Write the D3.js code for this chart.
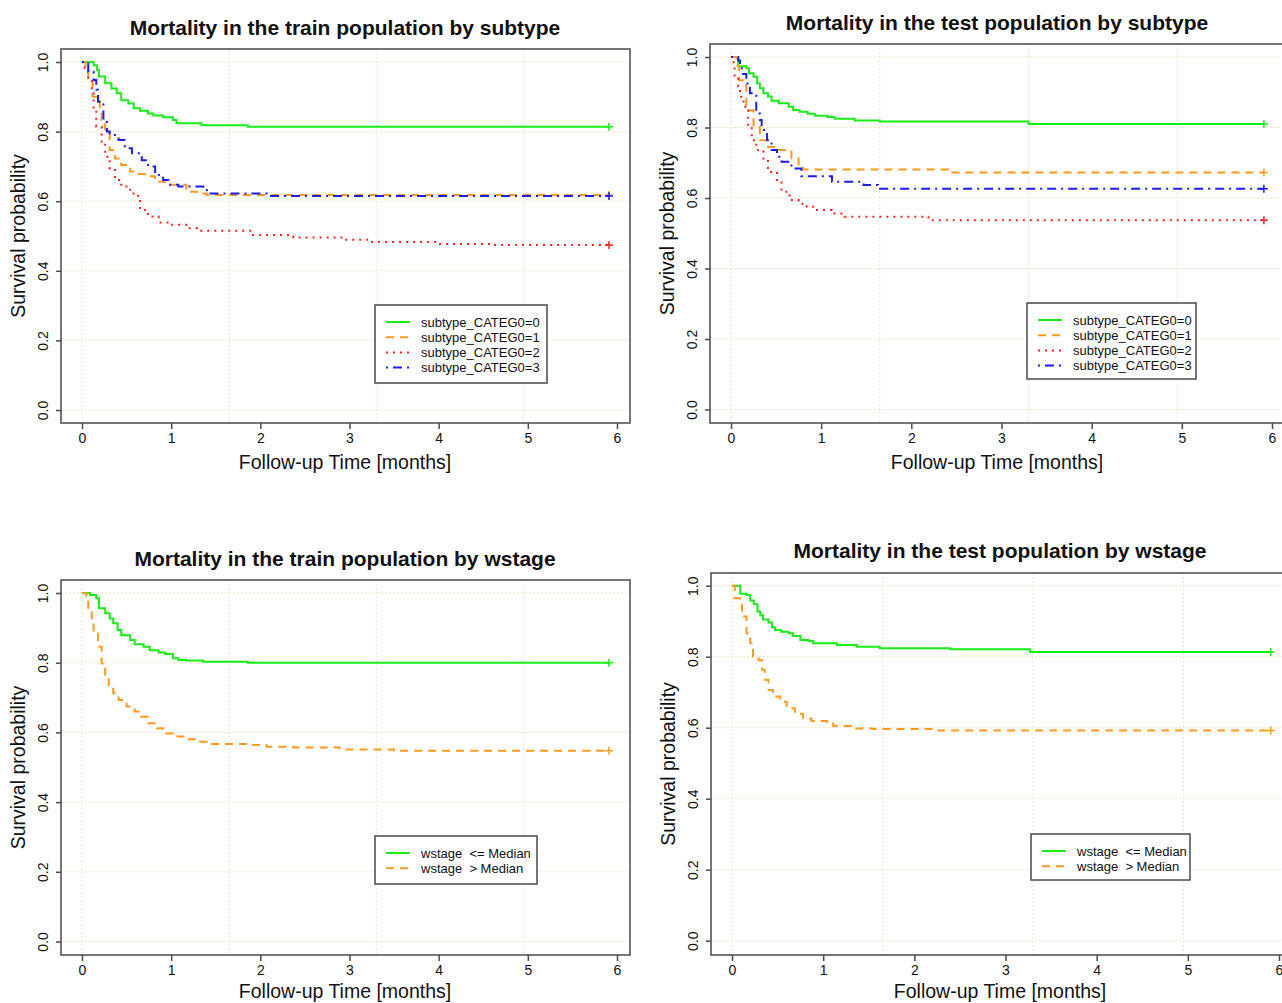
<!DOCTYPE html>
<html>
<head>
<meta charset="utf-8">
<script src="https://cdn.jsdelivr.net/npm/d3@7"></script>
<style>
  body { margin: 0; background: #fff; }
  svg { display: block; font-family: "Liberation Sans", Arial, sans-serif; }
</style>
</head>
<body>
<script>
// Kaplan-Meier step points [time in months, survival]
var trainSub0 = [[0,1],[0.13,0.991],[0.17,0.977],[0.19,0.958],[0.26,0.939],[0.33,0.924],[0.39,0.91],[0.44,0.89],[0.52,0.881],[0.58,0.867],[0.65,0.86],[0.74,0.852],[0.80,0.846],[0.91,0.841],[1.02,0.833],[1.06,0.824],[1.34,0.818],[1.86,0.814],[5.91,0.814]];
var trainSub1 = [[0,1],[0.04,0.975],[0.07,0.953],[0.12,0.9],[0.2,0.857],[0.22,0.833],[0.26,0.805],[0.31,0.747],[0.37,0.723],[0.44,0.704],[0.54,0.685],[0.63,0.678],[0.76,0.672],[0.82,0.656],[0.93,0.647],[1.17,0.627],[1.29,0.622],[1.40,0.618],[5.91,0.618]];
var trainSub2 = [[0,1],[0.03,0.982],[0.07,0.948],[0.11,0.91],[0.13,0.862],[0.16,0.814],[0.22,0.766],[0.26,0.728],[0.31,0.695],[0.37,0.661],[0.44,0.642],[0.54,0.622],[0.63,0.608],[0.65,0.575],[0.74,0.556],[0.86,0.539],[0.99,0.532],[1.17,0.522],[1.29,0.515],[1.90,0.503],[2.37,0.496],[2.91,0.489],[3.23,0.483],[4.0,0.477],[4.6,0.474],[5.91,0.474]];
var trainSub3 = [[0,1],[0.07,0.972],[0.13,0.948],[0.16,0.92],[0.18,0.886],[0.24,0.833],[0.28,0.8],[0.31,0.79],[0.41,0.776],[0.48,0.752],[0.56,0.738],[0.67,0.718],[0.74,0.70],[0.82,0.675],[0.91,0.661],[0.97,0.647],[1.08,0.642],[1.36,0.632],[1.40,0.622],[2.07,0.615],[5.91,0.615]];

var testSub0 = [[0,1],[0.08,0.974],[0.17,0.968],[0.2,0.954],[0.25,0.944],[0.29,0.925],[0.32,0.911],[0.36,0.897],[0.41,0.888],[0.45,0.876],[0.53,0.869],[0.64,0.859],[0.69,0.85],[0.76,0.845],[0.85,0.839],[0.93,0.833],[1.07,0.83],[1.15,0.825],[1.37,0.82],[1.65,0.817],[3.3,0.81],[5.91,0.81]];
var testSub1 = [[0,1],[0.06,0.976],[0.09,0.934],[0.14,0.92],[0.17,0.849],[0.25,0.802],[0.32,0.764],[0.40,0.745],[0.51,0.736],[0.67,0.712],[0.75,0.69],[0.80,0.681],[2.41,0.672],[5.91,0.672]];
var testSub2 = [[0,1],[0.03,0.976],[0.04,0.943],[0.08,0.916],[0.1,0.887],[0.14,0.859],[0.19,0.802],[0.23,0.764],[0.28,0.736],[0.36,0.708],[0.41,0.674],[0.51,0.651],[0.56,0.618],[0.65,0.594],[0.75,0.584],[0.84,0.575],[0.93,0.566],[1.12,0.556],[1.26,0.547],[2.19,0.537],[5.91,0.537]];
var testSub3 = [[0,1],[0.08,0.99],[0.1,0.976],[0.12,0.952],[0.17,0.925],[0.21,0.897],[0.28,0.84],[0.32,0.821],[0.34,0.793],[0.40,0.764],[0.45,0.736],[0.51,0.717],[0.56,0.703],[0.67,0.684],[0.78,0.662],[1.12,0.646],[1.47,0.637],[1.63,0.626],[5.91,0.626]];

var trainW0 = [[0,1],[0.09,0.994],[0.16,0.985],[0.19,0.956],[0.26,0.942],[0.31,0.927],[0.35,0.913],[0.40,0.894],[0.44,0.879],[0.54,0.865],[0.59,0.853],[0.69,0.846],[0.76,0.836],[0.86,0.829],[0.93,0.825],[1.02,0.813],[1.08,0.808],[1.17,0.806],[1.36,0.803],[1.86,0.80],[5.91,0.80]];
var trainW1 = [[0,1],[0.05,0.99],[0.07,0.951],[0.11,0.922],[0.13,0.884],[0.18,0.846],[0.22,0.798],[0.26,0.76],[0.30,0.731],[0.35,0.712],[0.41,0.693],[0.50,0.674],[0.59,0.66],[0.65,0.645],[0.74,0.626],[0.84,0.612],[0.91,0.597],[1.02,0.588],[1.15,0.58],[1.27,0.573],[1.40,0.567],[1.88,0.564],[2.07,0.559],[2.37,0.557],[2.89,0.551],[3.5,0.547],[5.91,0.547]];

var testW0 = [[0,1],[0.09,0.977],[0.16,0.974],[0.20,0.958],[0.24,0.948],[0.28,0.927],[0.31,0.917],[0.34,0.905],[0.40,0.896],[0.44,0.883],[0.47,0.875],[0.54,0.87],[0.62,0.866],[0.67,0.858],[0.75,0.847],[0.84,0.844],[0.89,0.838],[1.15,0.833],[1.37,0.828],[1.62,0.824],[2.39,0.821],[3.27,0.813],[5.91,0.813]];
var testW1 = [[0,1],[0.03,0.965],[0.09,0.955],[0.11,0.913],[0.16,0.866],[0.20,0.838],[0.23,0.80],[0.29,0.79],[0.33,0.763],[0.36,0.735],[0.40,0.706],[0.45,0.688],[0.53,0.673],[0.60,0.655],[0.69,0.639],[0.78,0.626],[0.87,0.619],[1.04,0.617],[1.11,0.605],[1.33,0.598],[1.55,0.596],[2.21,0.592],[5.91,0.592]];

var subtypeNames = ["subtype_CATEG0=0", "subtype_CATEG0=1", "subtype_CATEG0=2", "subtype_CATEG0=3"];
var wstageNames = ["wstage  <= Median", "wstage  > Median"];
var xTicks = [0, 1, 2, 3, 4, 5, 6];
var yTicks = [0, 0.2, 0.4, 0.6, 0.8, 1.0];
var xGrid = [0, 1.65, 3.3, 4.95];

// line styles per group (green solid, orange dashed, red dotted, blue dot-dash)
var colors = ["#16ee16", "#ff9a1c", "#ff2222", "#1c1cff"];
var dashes = [null, "8,6", "2,5", "2,5,9,5"];

var svg = d3.select("body").append("svg")
    .attr("width", 1282)
    .attr("height", 1003);

// layout of each panel in pixels (the reference screenshot is a montage)
var panels = [
  {title: "Mortality in the train population by subtype", data: [trainSub0, trainSub1, trainSub2, trainSub3], names: subtypeNames,
   box: [61, 630, 49, 423], x0: 82, x6: 617, y1: 62, y0: 410, titleX: 345, titleY: 27, xlabY: 462, legend: [375, 305, 172, 78]},
  {title: "Mortality in the test population by subtype", data: [testSub0, testSub1, testSub2, testSub3], names: subtypeNames,
   box: [710, 1295, 44, 423], x0: 731, x6: 1272, y1: 57, y0: 409.5, titleX: 997, titleY: 22, xlabY: 462, legend: [1027, 303, 169, 76]},
  {title: "Mortality in the train population by wstage", data: [trainW0, trainW1], names: wstageNames,
   box: [61, 630, 580, 955], x0: 82, x6: 617, y1: 593, y0: 941.5, titleX: 345, titleY: 558, xlabY: 991, legend: [375, 836, 162, 48]},
  {title: "Mortality in the test population by wstage", data: [testW0, testW1], names: wstageNames,
   box: [711, 1295, 573, 955], x0: 732, x6: 1279, y1: 585.7, y0: 940.7, titleX: 1000, titleY: 550, xlabY: 991, legend: [1031, 834, 159, 46]}
];

panels.forEach(function(p){
    var g = svg.append("g");
    var x = d3.scaleLinear().domain([0, 6]).range([p.x0, p.x6]);
    var y = d3.scaleLinear().domain([0, 1]).range([p.y0, p.y1]);
    var L = p.box[0], R = p.box[1], T = p.box[2], B = p.box[3];

    // grid
    g.selectAll(".vg").data(xGrid).enter().append("line")
        .attr("x1", function(d){ return x(d); }).attr("x2", function(d){ return x(d); })
        .attr("y1", T).attr("y2", B)
        .attr("stroke", "#efe4c0").attr("stroke-width", 1).attr("stroke-dasharray", "2,2");
    g.selectAll(".hg").data(yTicks).enter().append("line")
        .attr("x1", L).attr("x2", R)
        .attr("y1", function(d){ return y(d); }).attr("y2", function(d){ return y(d); })
        .attr("stroke", "#efe4c0").attr("stroke-width", 1).attr("stroke-dasharray", "2,2");

    // survival curves
    var line = d3.line()
        .x(function(d){ return x(d[0]); })
        .y(function(d){ return y(d[1]); })
        .curve(d3.curveStepAfter);
    p.data.forEach(function(s, i){
        g.append("path")
            .attr("d", line(s))
            .attr("fill", "none")
            .attr("stroke", colors[i])
            .attr("stroke-width", 2)
            .attr("stroke-dasharray", dashes[i]);
        var last = s[s.length - 1];
        var cx = x(last[0]), cy = y(last[1]);
        g.append("path")
            .attr("d", "M" + (cx - 4) + "," + cy + "H" + (cx + 4) + "M" + cx + "," + (cy - 4) + "V" + (cy + 4))
            .attr("stroke", colors[i]).attr("stroke-width", 1.5);
    });

    // box
    g.append("rect")
        .attr("x", L).attr("y", T).attr("width", R - L).attr("height", B - T)
        .attr("fill", "none").attr("stroke", "#4a4a4a").attr("stroke-width", 1.5);

    // x axis
    var xa = g.append("g").attr("transform", "translate(0," + B + ")")
        .call(d3.axisBottom(x).tickValues(xTicks).tickSize(6).tickPadding(4).tickFormat(d3.format("d")));
    xa.select(".domain").remove();
    xa.selectAll("line").attr("stroke", "#4a4a4a").attr("stroke-width", 1.5);
    xa.selectAll("text").attr("font-size", 14).attr("fill", "#111").attr("font-family", "Liberation Sans, Arial, sans-serif");

    // y axis, labels rotated like base R
    var ya = g.append("g").attr("transform", "translate(" + L + ",0)")
        .call(d3.axisLeft(y).tickValues(yTicks).tickSize(5).tickFormat(d3.format(".1f")));
    ya.select(".domain").remove();
    ya.selectAll("line").attr("stroke", "#4a4a4a").attr("stroke-width", 1.5);
    ya.selectAll("text")
        .attr("font-size", 14).attr("fill", "#111").attr("font-family", "Liberation Sans, Arial, sans-serif")
        .attr("x", null).attr("dy", null)
        .attr("text-anchor", "middle")
        .attr("transform", "translate(-18,0) rotate(-90)")
        .attr("dominant-baseline", "central");

    // titles
    g.append("text")
        .attr("x", p.titleX).attr("y", p.titleY)
        .attr("text-anchor", "middle").attr("dominant-baseline", "central")
        .attr("font-weight", "bold").attr("font-size", 21).attr("fill", "#111")
        .text(p.title);
    g.append("text")
        .attr("x", p.titleX).attr("y", p.xlabY)
        .attr("text-anchor", "middle").attr("dominant-baseline", "central")
        .attr("font-size", 19.5).attr("fill", "#111")
        .text("Follow-up Time [months]");
    g.append("text")
        .attr("transform", "translate(" + (L - 43) + "," + ((T + B) / 2) + ") rotate(-90)")
        .attr("text-anchor", "middle").attr("dominant-baseline", "central")
        .attr("font-size", 19.5).attr("fill", "#111")
        .text("Survival probability");

    // legend
    var lg = g.append("g").attr("transform", "translate(" + p.legend[0] + "," + p.legend[1] + ")");
    lg.append("rect")
        .attr("width", p.legend[2]).attr("height", p.legend[3])
        .attr("fill", "#fff").attr("stroke", "#4a4a4a").attr("stroke-width", 1.5);
    p.names.forEach(function(n, i){
        var ry = 17 + i * 15.2;
        lg.append("line")
            .attr("x1", 11).attr("x2", 35).attr("y1", ry).attr("y2", ry)
            .attr("stroke", colors[i]).attr("stroke-width", 2)
            .attr("stroke-dasharray", dashes[i]);
        lg.append("text")
            .attr("x", 46).attr("y", ry)
            .attr("dominant-baseline", "central")
            .attr("font-size", 13).attr("fill", "#111")
            .style("white-space", "pre")
            .text(n);
    });
});
</script>
</body>
</html>
